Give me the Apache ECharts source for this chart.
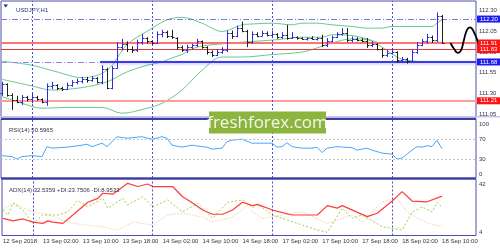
<!DOCTYPE html>
<html><head><meta charset="utf-8">
<script src="https://cdn.jsdelivr.net/npm/echarts@6/dist/echarts.min.js"></script>
<style>html,body{margin:0;padding:0;background:#fff}#c{width:500px;height:250px}</style>
</head><body><div id="c"></div>
<script>
// ---------- DATA ----------
const opens  = [111.31,111.41,111.28,111.22,111.20,111.25,111.23,111.26,111.23,111.19,111.39,111.40,111.36,111.35,111.40,111.44,111.45,111.47,111.46,111.48,111.44,111.60,111.37,111.61,111.86,111.90,111.84,111.82,111.92,111.97,111.93,111.91,112.02,112.04,112.00,111.97,111.86,111.82,111.86,111.88,111.93,111.86,111.80,111.77,111.80,111.82,112.03,112.00,112.09,112.06,111.92,112.02,112.00,112.03,112.01,112.02,111.98,112.01,111.97,111.98,111.97,111.96,111.97,111.96,111.97,111.89,111.94,111.98,112.02,112.03,111.95,111.96,111.95,111.94,111.88,111.90,111.84,111.76,111.79,111.80,111.70,111.72,111.69,111.80,111.89,111.93,111.98,111.95,112.24];
const highs  = [111.44,111.42,111.30,111.27,111.28,111.27,111.30,111.27,111.24,111.42,111.44,111.41,111.38,111.43,111.46,111.48,111.50,111.50,111.51,111.50,111.64,111.61,111.63,111.92,111.96,111.93,111.87,111.95,112.02,111.98,111.94,112.05,112.07,112.06,112.07,111.98,111.88,111.89,111.90,111.96,111.94,111.87,111.82,111.83,111.86,112.06,112.06,112.12,112.17,112.07,112.05,112.04,112.06,112.05,112.06,112.03,112.04,112.13,112.04,111.99,111.98,111.98,111.99,111.98,112.01,111.97,112.00,112.04,112.09,112.09,111.99,111.98,111.97,111.97,111.93,111.91,111.85,111.82,111.84,111.81,111.74,111.73,111.83,111.92,111.96,112.02,112.00,112.28,112.25];
const lows   = [111.27,111.26,111.10,111.18,111.16,111.20,111.18,111.21,111.18,111.15,111.35,111.34,111.33,111.34,111.38,111.41,111.42,111.43,111.44,111.42,111.41,111.35,111.35,111.60,111.82,111.80,111.79,111.80,111.89,111.90,111.89,111.90,111.98,111.97,111.96,111.83,111.80,111.79,111.83,111.86,111.84,111.77,111.74,111.75,111.78,111.80,111.96,111.98,112.04,111.86,111.90,111.98,111.99,111.99,111.97,111.96,111.96,111.95,111.96,111.95,111.95,111.94,111.95,111.94,111.86,111.86,111.92,111.97,112.00,111.92,111.92,111.93,111.92,111.85,111.86,111.82,111.73,111.74,111.77,111.67,111.67,111.66,111.68,111.78,111.87,111.90,111.91,111.92,111.90];
const closes = [111.41,111.28,111.22,111.20,111.25,111.23,111.26,111.23,111.20,111.39,111.40,111.36,111.35,111.40,111.44,111.45,111.47,111.46,111.48,111.44,111.60,111.37,111.61,111.86,111.90,111.84,111.82,111.92,111.97,111.93,111.91,112.02,112.04,112.00,111.98,111.86,111.82,111.86,111.88,111.93,111.86,111.80,111.77,111.80,111.82,112.03,112.00,112.09,112.06,111.92,112.02,112.00,112.03,112.01,112.02,111.98,112.01,111.97,111.98,111.97,111.96,111.97,111.96,111.97,111.89,111.94,111.98,112.02,112.03,111.95,111.96,111.95,111.94,111.88,111.90,111.84,111.76,111.79,111.80,111.70,111.72,111.69,111.80,111.89,111.93,111.98,111.95,112.24,111.91];

const bbUpper = [[0,111.69],[6,111.64],[11,111.56],[16,111.49],[21,111.58],[25,111.89],[29,112.05],[33,112.19],[36,112.22],[40,112.15],[44,112.05],[48,112.13],[50,112.14],[54,112.15],[58,112.13],[60,112.15],[63,112.15],[66,112.13],[70,112.11],[73,112.09],[76,112.09],[78,112.11],[81,112.11],[86,112.11],[87,112.15],[88,112.19]];
const bbMiddle = [[0,111.47],[6,111.39],[10,111.34],[16,111.37],[21,111.44],[25,111.56],[29,111.64],[32,111.68],[34,111.73],[36,111.77],[39,111.86],[44,111.90],[48,111.92],[55,111.95],[60,111.98],[64,111.98],[66,112.01],[70,112.00],[73,111.96],[76,111.91],[80,111.91],[86,111.92],[88,111.92]];
const bbLower = [[0,111.26],[4,111.18],[8,111.12],[13,111.13],[20,111.13],[24,111.06],[29,111.12],[32,111.18],[36,111.34],[40,111.58],[44,111.74],[48,111.74],[54,111.77],[60,111.80],[63,111.85],[66,111.91],[70,111.96],[73,111.95],[76,111.86],[79,111.74],[81,111.70],[86,111.68],[88,111.68]];

const rsiValues = [[0,37],[2,35],[3,30],[4,35],[6,37],[8,35],[9,55],[10,52],[13,54],[16,58],[17,60],[18,55],[20,62],[21,55],[23,75],[25,72],[28,75],[30,70],[32,75],[33,72],[34,58],[36,54],[38,58],[40,55],[41,54],[42,50],[44,52],[45,65],[46,68],[48,70],[50,62],[52,62],[54,62],[55,54],[56,55],[57,63],[58,55],[60,52],[62,52],[63,54],[64,43],[65,52],[67,55],[70,53],[71,48],[73,52],[74,48],[76,42],[78,40],[79,30],[80,32],[82,48],[83,55],[84,54],[85,57],[86,55],[87,68],[88,50.6]];
const adxMain = [[0,15],[2,13],[4,14.5],[6,12],[8,11],[9,13],[10,12],[12,11],[14,17.6],[17,27.6],[19,30.7],[20,34.7],[22,34],[25,42.5],[27,40],[29,42],[30,40],[34,40],[36,32],[38,27],[40,21.5],[42,18.2],[44,18.2],[46,21.5],[48,27.6],[50,25],[51,26],[54,21.5],[58,17.6],[63,17.6],[65,25],[67,23],[68,25],[73,16.3],[75,19],[78,28.6],[80,36],[82,28.6],[85,28],[88,32.5]];
const adxPlusDI = [[0,21.5],[1,17.6],[2,27],[4,21.5],[6,11],[8,17.6],[11,17.6],[13,20],[15,29],[17,24],[20,30.7],[21,23],[24,30.7],[25,25.5],[28,32],[30,24],[33,29.4],[36,20],[39,27],[42,15],[45,27.6],[48,29.4],[50,23.3],[51,26],[54,17.6],[57,13.7],[60,9.7],[63,5.8],[65,4],[68,23],[70,15],[72,17.6],[76,8.4],[80,5.8],[82,20],[84,24],[86,20],[87,27.6],[88,23.75]];
const adxMinusDI = [[0,22],[2,27],[6,20],[9,18],[13,12],[16,10],[20,8.4],[23,5.8],[26,12],[30,9.7],[33,17.6],[36,19],[40,16],[42,12],[46,16],[49,25],[50,20],[52,15],[56,17.6],[60,20],[65,11],[70,17.6],[72,12],[76,28],[79,30.7],[81,20],[83,15],[86,10],[88,8.95]];

const timeLabelIdx = [0,8,16,24,32,40,48,56,64,72,80,88];
const timeLabels = ['12 Sep 2018','13 Sep 02:00','13 Sep 10:00','13 Sep 18:00','14 Sep 02:00','14 Sep 10:00','14 Sep 18:00','17 Sep 02:00','17 Sep 10:00','17 Sep 18:00','18 Sep 02:00','18 Sep 10:00'];
const dayBreakIdx = [6,30,54,78];
const priceTicks = [111.05,111.30,111.55,111.80,112.05,112.30];
const rsiTicks = [0,30,70,100];
const rsiLevels = [70,30];
const adxTicks = [4,42];
const levelValues = [112.20,111.91,111.83,111.68,111.21];
const supportStartIdx = 19.6;
const forecastPath = [[89.7,111.91],[90.4,111.84],[91.2,111.79],[91.8,111.82],[92.4,111.95],[93.0,112.07],[93.6,112.10],[94.4,112.04],[95.2,111.92],[96.0,111.80],[96.9,111.69]];
const forecastArrow = [[95.9,111.75],[96.9,111.69],[97.6,111.76]];
const symbolTitle = 'USDJPY,H1';
const rsiTitle = 'RSI(14) 50.5965';
const adxTitle = 'ADX(14) 32.5359 +DI:23.7506 -DI:8.9533';

// ---------- CHART ----------
const FONT = '"Liberation Sans", Arial, sans-serif';
const XMIN = -0.2, XMAX = 94.8;
const upColor = '#2c2cd8', downColor = '#1e1e1e';
const chart = echarts.init(document.getElementById('c'), null, {renderer:'canvas'});

const ohlcData = opens.map((o,k)=>[k,o,highs[k],lows[k],closes[k]]);
const dayLines = (color) => ({
  silent:true, symbol:['none','none'], label:{show:false},
  lineStyle:{color:color, type:[2,2], width:1},
  data: dayBreakIdx.map(v=>({xAxis:v}))
});
function boxLabel(bg){
  return {show:true, position:'end', distance:1, formatter:(p)=>Number(p.value).toFixed(2),
    color:'#fff', backgroundColor:bg, fontSize:6, fontFamily:FONT, padding:[1,3,0,3], lineHeight:6};
}
const redBox = '#ff1212', blueBox = '#1c1cf0';
const levelStyle = {
  '112.2':  {color:'#7b7be8', width:1, type:[6,2,1,2], box:blueBox},
  '111.91': {color:'#ff7373', width:2, type:'solid', box:redBox},
  '111.83': {color:'#e53a3a', width:1, type:'solid', box:redBox},
  '111.68': {color:'#3a3ae8', width:2, type:'solid', box:blueBox},
  '111.21': {color:'#ff9c9c', width:2, type:'solid', box:redBox}
};
const levelLines = [];
levelValues.forEach(v=>{
  const s = levelStyle[String(v)];
  if (v === 111.68) {
    levelLines.push([{coord:[XMIN,v], lineStyle:{color:'#8a8ae8', width:1, type:[6,2,1,2]}, label:{show:false}},{coord:[supportStartIdx,v]}]);
    levelLines.push([{coord:[supportStartIdx,v], value:v, lineStyle:{color:s.color, width:s.width, type:s.type, shadowColor:'rgba(60,60,230,0.35)', shadowBlur:3, shadowOffsetY:1}, label:boxLabel(s.box)},{coord:[XMAX,v], value:v}]);
  } else {
    levelLines.push({yAxis:v, value:v, lineStyle:{color:s.color, width:s.width, type:s.type}, label:boxLabel(s.box)});
  }
});

const axisText = {fontSize:6, color:'#33334a', fontFamily:FONT};
const option = {
  animation:false,
  backgroundColor:'#ffffff',
  title:[
    {text:symbolTitle, left:11, top:2.5, textStyle:{fontSize:6, color:'#2b2b80', fontWeight:'normal', fontFamily:FONT}},
    {text:rsiTitle, left:4, top:122.5, textStyle:{fontSize:6, color:'#33334a', fontWeight:'normal', fontFamily:FONT}},
    {text:adxTitle, left:4, top:182, textStyle:{fontSize:6, color:'#33334a', fontWeight:'normal', fontFamily:FONT}}
  ],
  grid:[
    {left:1, top:1, width:475, height:117, show:true, borderColor:'#5050a8', borderWidth:1, backgroundColor:'transparent'},
    {left:1, top:119, width:475, height:59, show:true, borderColor:'#5050a8', borderWidth:1, backgroundColor:'transparent'},
    {left:1, top:179, width:475, height:56.5, show:true, borderColor:'#5050a8', borderWidth:1, backgroundColor:'transparent'}
  ],
  xAxis:[0,1,2].map(g=>({
    type:'value', gridIndex:g, min:XMIN, max:XMAX,
    axisLine:{show:false}, axisTick:{show:false}, splitLine:{show:false},
    axisLabel: g===2 ? Object.assign({show:true, customValues:timeLabelIdx, align:'left', margin:3,
      formatter:(v)=>timeLabels[timeLabelIdx.indexOf(Math.round(v))]}, axisText) : {show:false}
  })),
  yAxis:[
    {type:'value', gridIndex:0, position:'right', min:111.0016, max:112.4186,
     axisLine:{show:false}, axisTick:{show:false}, splitLine:{show:false},
     axisLabel:Object.assign({customValues:priceTicks, margin:3, formatter:(v)=>v.toFixed(2)}, axisText)},
    {type:'value', gridIndex:1, position:'right', min:-8.05, max:110.66,
     axisLine:{show:false}, axisTick:{show:false}, splitLine:{show:false},
     axisLabel:Object.assign({customValues:rsiTicks, margin:3}, axisText)},
    {type:'value', gridIndex:2, position:'right', min:1.48, max:45.93,
     axisLine:{show:false}, axisTick:{show:false}, splitLine:{show:false},
     axisLabel:Object.assign({customValues:adxTicks, margin:3}, axisText)}
  ],
  series:[
    {type:'line', xAxisIndex:0, yAxisIndex:0, data:bbUpper, smooth:0.35, showSymbol:false, silent:true, lineStyle:{color:'#6cc88e', width:1}, z:2},
    {type:'line', xAxisIndex:0, yAxisIndex:0, data:bbMiddle, smooth:0.35, showSymbol:false, silent:true, lineStyle:{color:'#6cc88e', width:1}, z:2},
    {type:'line', xAxisIndex:0, yAxisIndex:0, data:bbLower, smooth:0.35, showSymbol:false, silent:true, lineStyle:{color:'#6cc88e', width:1}, z:2},
    {type:'custom', xAxisIndex:0, yAxisIndex:0, data:ohlcData, z:5,
     encode:{x:0, y:[1,2,3,4]},
     renderItem:(params, api)=>{
       const i=api.value(0), o=api.value(1), h=api.value(2), l=api.value(3), c=api.value(4);
       const ph=api.coord([i,h]), pl=api.coord([i,l]), po=api.coord([i,o]), pc=api.coord([i,c]);
       const x=Math.round(ph[0])+0.5;
       const st={stroke: c>o?upColor:downColor, lineWidth:1};
       const yo=Math.round(po[1])+0.5, yc=Math.round(pc[1])+0.5;
       return {type:'group', children:[
         {type:'line', shape:{x1:x,y1:ph[1],x2:x,y2:pl[1]}, style:st},
         {type:'line', shape:{x1:x-2,y1:yo,x2:x,y2:yo}, style:st},
         {type:'line', shape:{x1:x,y1:yc,x2:x+2,y2:yc}, style:st}
       ]};
     },
     markLine:{silent:true, symbol:['none','none'], data:levelLines, z:3}
    },
    {type:'line', xAxisIndex:0, yAxisIndex:0, data:[], markLine:dayLines('#4a4ad8')},
    {type:'line', xAxisIndex:0, yAxisIndex:0, data:forecastPath, smooth:0.5, showSymbol:false, clip:false, silent:true, lineStyle:{color:'#000', width:1.8}, z:20},
    {type:'line', xAxisIndex:0, yAxisIndex:0, data:forecastArrow, showSymbol:false, clip:false, silent:true, lineStyle:{color:'#000', width:1.6}, z:20},
    {type:'line', xAxisIndex:1, yAxisIndex:1, data:rsiValues, showSymbol:false, silent:true, lineStyle:{color:'#4aa6ff', width:1},
     markLine:{silent:true, symbol:['none','none'], label:{show:false}, lineStyle:{color:'#c4c4c4', type:[2,2], width:1}, data:rsiLevels.map(v=>({yAxis:v}))}},
    {type:'line', xAxisIndex:1, yAxisIndex:1, data:[], markLine:dayLines('#4a4ad8')},
    {type:'line', xAxisIndex:2, yAxisIndex:2, data:adxMinusDI, showSymbol:false, silent:true, lineStyle:{color:'#f7cfa6', width:1, type:[1.5,1.5]}},
    {type:'line', xAxisIndex:2, yAxisIndex:2, data:adxPlusDI, showSymbol:false, silent:true, lineStyle:{color:'#a3cf3e', width:1, type:[2,2]}},
    {type:'line', xAxisIndex:2, yAxisIndex:2, data:adxMain, showSymbol:false, silent:true, lineStyle:{color:'#ff3b3b', width:1.2}, markLine:dayLines('#4a4ad8')}
  ],
  graphic:[
    {type:'polygon', shape:{points:[[3.5,4.5],[8,4.5],[5.75,7.5]]}, style:{fill:'#2b2b80'}, z:50},
    {type:'rect', shape:{x:0, y:116, width:500, height:1.5}, style:{fill:'#c6c6ea'}, z:1},
    {type:'line', shape:{x1:1, y1:119, x2:476, y2:119}, style:{stroke:'#3e3e9e', lineWidth:2}, z:50},
    {type:'line', shape:{x1:1, y1:178.5, x2:476, y2:178.5}, style:{stroke:'#3e3e9e', lineWidth:2}, z:50},
    {type:'rect', shape:{x:209, y:111.5, width:117, height:22}, style:{fill:'#8db43e'}, z:100},
    {type:'text', x:267.5, y:123, style:{text:'freshforex.com', fill:'#f3f8ea', font:'17px "Open Sans"', textAlign:'center', textVerticalAlign:'middle'}, z:101}
  ]
};
chart.setOption(option);
</script>
</body></html>
